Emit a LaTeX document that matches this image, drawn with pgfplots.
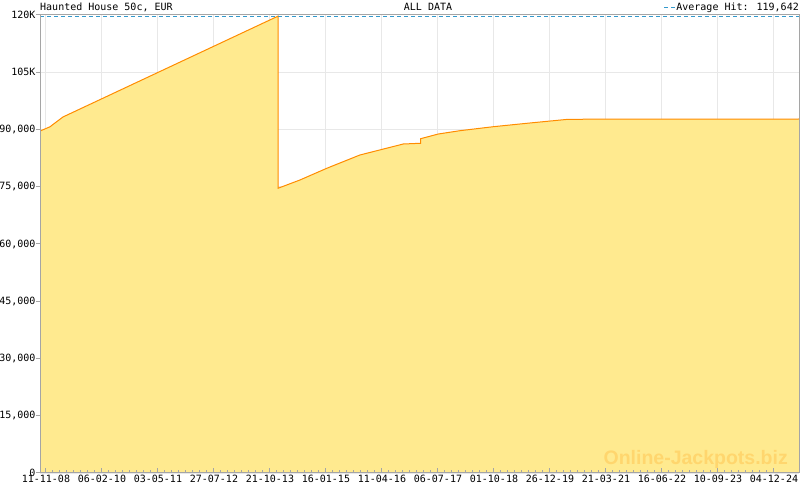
\documentclass[border=0pt]{standalone}
\usepackage{fontspec}
\setmainfont{DejaVu Sans Mono}
\newfontfamily\wmfont{Liberation Sans}
\usepackage{pgfplots}
\pgfplotsset{compat=1.18}

\definecolor{areafill}{RGB}{255,234,143}
\definecolor{lineorange}{RGB}{255,140,0}
\definecolor{avgblue}{RGB}{51,153,204}
\definecolor{framegray}{RGB}{165,165,165}
\definecolor{gridgray}{RGB}{232,232,232}
\definecolor{wmark}{RGB}{255,214,110}

\pgfplotsset{
  chartbox/.style={
    at={(40bp,17bp)}, anchor=south west,
    scale only axis,
    width=759bp, height=458bp,
    xmin=-48, xmax=6078,
    ymin=0, ymax=120000,
    scaled y ticks=false, scaled x ticks=false,
    xtick={0,452,904,1356,1808,2260,2712,3164,3616,4068,4520,4972,5424,5876},
    ytick={0,15000,30000,45000,60000,75000,90000,105000,120000},
  },
}

\begin{document}
\begin{tikzpicture}

% grid only, drawn underneath the filled area
\begin{axis}[
  chartbox,
  xticklabels={}, yticklabels={},
  xmajorgrids, ymajorgrids,
  major grid style={gridgray, line width=1bp},
  tick style={draw=none},
  axis line style={draw=none},
]
\end{axis}

\begin{axis}[
  chartbox,
  axis on top,
  xticklabels={11-11-08,06-02-10,03-05-11,27-07-12,21-10-13,16-01-15,11-04-16,
    06-07-17,01-10-18,26-12-19,21-03-21,16-06-22,10-09-23,04-12-24},
  yticklabels={0,{15,000},{30,000},{45,000},{60,000},{75,000},{90,000},105K,120K},
  minor x tick num=7,
  xtick pos=left, ytick pos=left,
  tick align=inside,
  major tick length=5bp, minor tick length=3bp,
  tick style={framegray, line width=1bp},
  y tick style={xshift=-4bp},
  axis line style={framegray, line width=1bp},
  tick label style={font=\fontsize{10bp}{12bp}\selectfont, black},
  yticklabel style={xshift=-1bp},
  xticklabel style={yshift=1bp},
]

\addplot[fill=areafill, draw=none] coordinates {
  (-48,89600) (32,90700) (137,93275) (1873,119700)
  (1873,74600) (2050,76770) (2266,79830) (2534,83320) (2715,84810)
  (2884,86200) (3024,86390) (3024,87590) (3167,88820) (3342,89690)
  (3610,90730) (3880,91620) (4216,92680) (6078,92750)
} \closedcycle;

\addplot[lineorange, line width=1bp] coordinates {
  (-48,89600) (32,90700) (137,93275) (1873,119700)
  (1873,74600) (2050,76770) (2266,79830) (2534,83320) (2715,84810)
  (2884,86200) (3024,86390) (3024,87590) (3167,88820) (3342,89690)
  (3610,90730) (3880,91620) (4216,92680) (6078,92750)
};

\addplot[avgblue, line width=1bp, dash pattern=on 4bp off 3bp] coordinates {
  (-48,119642) (6078,119642)
};
\end{axis}

\node[anchor=base east, text=wmark, inner sep=0pt]
  at (788bp,26bp) {\wmfont\bfseries\fontsize{19.5bp}{22bp}\selectfont Online-Jackpots.biz};

\begin{scope}[font=\fontsize{10bp}{12bp}\selectfont]
\node[anchor=base west, inner sep=0pt] at (40bp,479bp) {Haunted House 50c, EUR};
\node[anchor=base, inner sep=0pt] at (428bp,479bp) {ALL DATA};
\node[anchor=base east, inner sep=0pt] at (799bp,479bp) {Average Hit: 119,642};
\draw[avgblue, line width=1bp, dash pattern=on 4bp off 3bp] (664bp,482.5bp) -- (677bp,482.5bp);
\end{scope}

\pgfresetboundingbox
\useasboundingbox (0,0) rectangle (800bp,490bp);
\end{tikzpicture}
\end{document}
